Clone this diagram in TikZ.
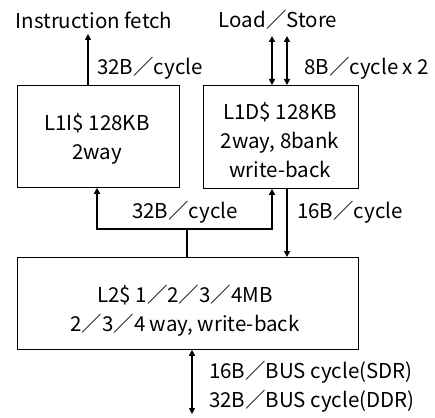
\documentclass[tikz,border=0pt]{standalone}
\usepackage{fontspec}
\setmainfont{Noto Sans CJK JP}
\usetikzlibrary{arrows.meta}
\tikzset{
  box/.style={draw, line width=0.8pt, inner sep=0pt},
  lbl/.style={inner sep=0pt, font=\fontsize{20.5}{29}\selectfont, align=center},
  bus/.style={line width=2pt, -{Triangle[length=6pt,width=6pt]}},
  bibus/.style={line width=2pt, {Triangle[length=6pt,width=6pt]}-{Triangle[length=6pt,width=6pt]}},
  wire/.style={line width=2pt}
}
\begin{document}
\begin{tikzpicture}[x=1pt,y=-1pt]
\useasboundingbox (0,0) rectangle (435,417);
% cache blocks
\node[box, minimum width=162pt, minimum height=102pt, anchor=north west] (l1i) at (17,85) {};
\node[box, minimum width=155pt, minimum height=103pt, anchor=north west] (l1d) at (203,85) {};
\node[box, minimum width=341pt, minimum height=92pt, anchor=north west] (l2) at (17,257) {};
\node[lbl] (l1it) at (97,139) {L1I\$ 128KB\\2way};
\node[lbl] (l1dt) at (280,140) {L1D\$ 128KB\\2way, 8bank\\write-back};
\node[lbl] (l2t) at (185,311) {L2\$ 1／2／3／4MB\\2／3／4 way, write-back};
% external ports
\node[lbl] (ifetch) at (94,20) {Instruction fetch};
\node[lbl] (ls) at (278,20) {Load／Store};
\coordinate (ifend) at (88,34);
\coordinate (lsa) at (272,36);
\coordinate (lsb) at (287,36);
\coordinate (memend) at (192,414);
% L1I -> core
\draw[bus] (l1i.north -| ifend) -- (ifend);
\node[lbl, anchor=west] (ifbw) at (97,68) {32B／cycle};
% L1D <-> core
\draw[bibus] (l1d.north -| lsa) -- (lsa);
\draw[bibus] (l1d.north -| lsb) -- (lsb);
\node[lbl, anchor=west] (lsbw) at (304,68) {8B／cycle x 2};
% L2 -> L1 refill
\coordinate (split) at (187,229);
\coordinate (spl) at (97,229);
\coordinate (spr) at (272,229);
\draw[wire] (l2.north -| split) -- (split);
\draw[wire, line cap=rect] (spl) -- (spr);
\draw[bus] (spl) -- (spl |- l1i.south);
\draw[bus] (spr) -- (spr |- l1d.south);
\node[lbl, anchor=west] (refill) at (132,212) {32B／cycle};
% L1D -> L2 write-back
\draw[bus] (l1d.south -| lsb) -- (l2.north -| lsb);
\node[lbl, anchor=west] (wbbw) at (297,212) {16B／cycle};
% L2 <-> memory bus
\draw[bibus] (l2.south -| memend) -- (memend);
\node[lbl, anchor=west, align=left] (membw) at (209,387) {16B／BUS cycle(SDR)\\32B／BUS cycle(DDR)};
\end{tikzpicture}
\end{document}
